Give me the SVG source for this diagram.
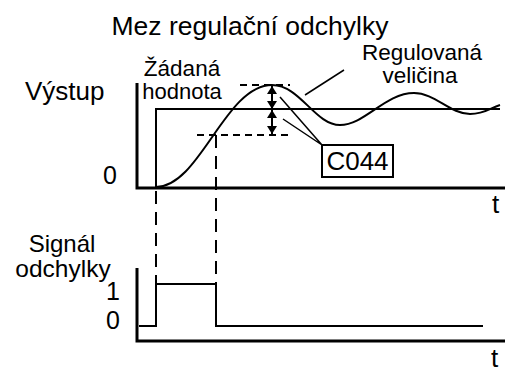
<svg xmlns="http://www.w3.org/2000/svg" width="505" height="367" viewBox="0 0 505 367">
<defs>
<style>
text{font-family:"Liberation Sans",Arial,sans-serif;fill:#000}
.axis{stroke:#000;stroke-width:3;fill:none}
.ln{stroke:#000;stroke-width:2;fill:none}
.thin{stroke:#000;stroke-width:1.5;fill:none}
.dh{stroke:#000;stroke-width:2;fill:none;stroke-dasharray:7 5}
.dv{stroke:#000;stroke-width:2;fill:none;stroke-dasharray:13 8}
</style>
<marker id="ah" viewBox="0 0 8 10" refX="8" refY="5" markerWidth="8" markerHeight="10" markerUnits="userSpaceOnUse" orient="auto-start-reverse">
<path d="M0,0 L8,5 L0,10 z" fill="#000"/>
</marker>
</defs>
<rect width="505" height="367" fill="#fff"/>
<g id="title"><text x="250" y="35" font-size="26.5" text-anchor="middle">Mez regulační odchylky</text></g>
<g id="upper-axes">
<path class="axis" d="M137,83 V188 H505"/>
<text x="25" y="100" font-size="26">Výstup</text>
<text x="117" y="184" font-size="25" text-anchor="end">0</text>
<text x="492" y="213" font-size="26">t</text>
</g>
<g id="setpoint">
<path class="ln" d="M156,188 V109 H500"/>
<text x="182" y="76" font-size="22.5" text-anchor="middle">Žádaná</text>
<text x="182" y="99" font-size="22" text-anchor="middle">hodnota</text>
</g>
<g id="response">
<path class="ln" d="M156,187 C200,187 225,85 272,85 C300,85 315,125 340,125 C365,125 385,93 414,93 C435,93 450,114 470,114 C485,114 490,108 500,105"/>
<text x="422" y="60" font-size="22.5" text-anchor="middle">Regulovaná</text>
<text x="420" y="83" font-size="22.5" text-anchor="middle">veličina</text>
</g>
<g id="c044">
<rect x="322" y="145" width="71" height="32" fill="#fff" stroke="#000" stroke-width="2"/>
<text x="357.5" y="170" font-size="26" text-anchor="middle">C044</text>
</g>
<g id="lower-axes">
<path class="axis" d="M137,268 V341 H505"/>
<text x="62" y="252" font-size="24" text-anchor="middle">Signál</text>
<text x="63" y="277" font-size="24.5" text-anchor="middle">odchylky</text>
<text x="120" y="300" font-size="25" text-anchor="end">1</text>
<text x="120" y="329" font-size="25" text-anchor="end">0</text>
<text x="491" y="367" font-size="26">t</text>
</g>
<g id="error-signal">
<path class="ln" d="M139,326 H156 V284 H216 V326 H483"/>
</g>
<g id="connectors">
<path class="dh" d="M240,85 H290"/>
<path class="dh" d="M197,135 H290"/>
<path class="dv" d="M156,191 V284"/>
<path class="dv" d="M216,135 V284"/>
<path class="ln" d="M272,86 V109" marker-start="url(#ah)" marker-end="url(#ah)"/>
<path class="ln" d="M272,110 V134" marker-start="url(#ah)" marker-end="url(#ah)"/>
<path class="thin" d="M322,145 L280,97 M322,145 L283,119"/>
<path class="thin" d="M305,95 L344,70"/>
</g>
</svg>
